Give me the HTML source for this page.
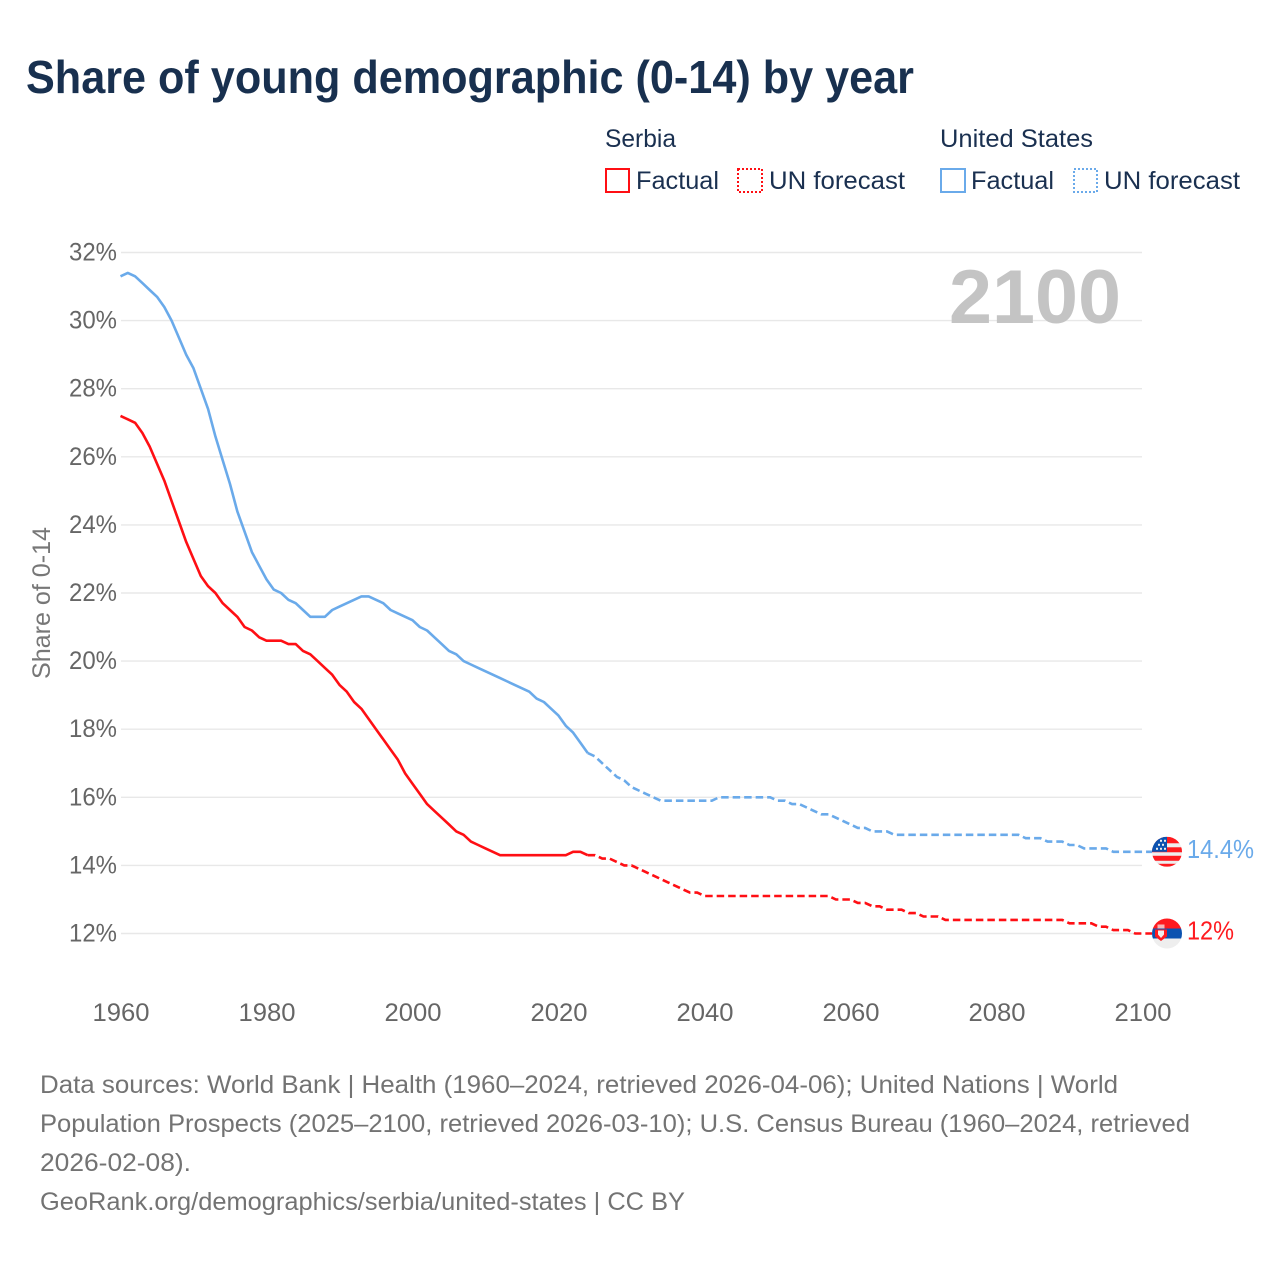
<!DOCTYPE html>
<html lang="en">
<head>
<meta charset="utf-8">
<title>Share of young demographic (0-14) by year</title>
<style>
html,body{margin:0;padding:0;background:#fff;width:1280px;height:1280px;overflow:hidden}
svg{display:block;font-family:"Liberation Sans",sans-serif}
.legend-text{font-size:25px;fill:#1a3050}
.tick{font-size:25px;fill:#666}
.foot{font-size:25px;fill:#737373}
</style>
</head>
<body>
<svg id="chart" xmlns="http://www.w3.org/2000/svg" width="1280" height="1280" viewBox="0 0 1280 1280">
  <rect x="0" y="0" width="1280" height="1280" fill="#fff"/>
  <text x="26" y="93" font-size="46" font-weight="700" fill="#18304f" textLength="888" lengthAdjust="spacingAndGlyphs">Share of young demographic (0-14) by year</text>

  <g>
    <text class="legend-text" x="605" y="147" textLength="71" lengthAdjust="spacingAndGlyphs">Serbia</text>
    <rect x="606" y="169" width="23" height="23" fill="none" stroke="#ff0f14" stroke-width="2"/>
    <text class="legend-text" x="636" y="189" textLength="83" lengthAdjust="spacingAndGlyphs">Factual</text>
    <rect x="738" y="169" width="24" height="23" fill="none" stroke="#ff0f14" stroke-width="2" stroke-dasharray="2 2"/>
    <text class="legend-text" x="769" y="189" textLength="136" lengthAdjust="spacingAndGlyphs">UN forecast</text>
    <text class="legend-text" x="940" y="147" textLength="153" lengthAdjust="spacingAndGlyphs">United States</text>
    <rect x="941" y="169" width="24" height="23" fill="none" stroke="#6aaaea" stroke-width="2"/>
    <text class="legend-text" x="971" y="189" textLength="83" lengthAdjust="spacingAndGlyphs">Factual</text>
    <rect x="1074" y="169" width="23" height="23" fill="none" stroke="#6aaaea" stroke-width="2" stroke-dasharray="2 2"/>
    <text class="legend-text" x="1104" y="189" textLength="136" lengthAdjust="spacingAndGlyphs">UN forecast</text>
  </g>

  <g id="grid"></g>
  <g id="y-ticks"></g>
  <g id="x-ticks"></g>

  <text transform="translate(50,679) rotate(-90)" font-size="25" fill="#777" textLength="152" lengthAdjust="spacingAndGlyphs">Share of 0-14</text>
  <text x="949" y="323" font-size="76" font-weight="700" fill="#c4c4c4" textLength="172" lengthAdjust="spacingAndGlyphs">2100</text>

  <g id="series"></g>

  <defs>
    <clipPath id="us-clip"><circle cx="0" cy="0" r="15"/></clipPath>
    <clipPath id="rs-clip"><circle cx="0" cy="0" r="15"/></clipPath>
  </defs>

  <g id="flag-us" clip-path="url(#us-clip)">
    <rect x="-15" y="-15" width="30" height="30" fill="#eee"/>
    <rect x="-15" y="-15" width="30" height="6.5" fill="#ff1a1f"/>
    <rect x="-15" y="-4.5" width="30" height="5" fill="#ff1a1f"/>
    <rect x="-15" y="4" width="30" height="5" fill="#ff1a1f"/>
    <rect x="-15" y="12" width="30" height="3" fill="#ff1a1f"/>
    <rect x="-15" y="-15" width="15" height="15" fill="#0b52b0"/>
    <g fill="#eee">
      <rect x="-7" y="-12" width="2" height="2"/><rect x="-3" y="-12" width="2" height="2"/>
      <rect x="-9" y="-8" width="2" height="2"/><rect x="-5" y="-8" width="2" height="2"/>
      <rect x="-11" y="-4" width="2" height="2"/><rect x="-7" y="-4" width="2" height="2"/><rect x="-3" y="-4" width="2" height="2"/>
    </g>
  </g>

  <g id="flag-rs" clip-path="url(#rs-clip)">
    <rect x="-15" y="-15" width="30" height="10" fill="#ff1a1f"/>
    <rect x="-15" y="-5" width="30" height="10" fill="#0b52b0"/>
    <rect x="-15" y="5" width="30" height="10" fill="#eee"/>
    <path d="M-12 -4 H0 V3 L-6 7.5 L-12 3 Z" fill="#ff1a1f"/>
    <rect x="-9.5" y="-9" width="7" height="4" fill="#f6b5b5"/>
    <path d="M-9 -3 H-3 V1 L-6 4.5 L-9 1 Z" fill="#eee"/>
  </g>

  <text id="label-us" x="1187" font-size="26" fill="#6aaaea" textLength="67" lengthAdjust="spacingAndGlyphs"></text>
  <text id="label-rs" x="1187" font-size="26" fill="#ff1a1f" textLength="47" lengthAdjust="spacingAndGlyphs"></text>

  <g>
    <text class="foot" x="40" y="1093" textLength="1078" lengthAdjust="spacingAndGlyphs">Data sources: World Bank | Health (1960–2024, retrieved 2026-04-06); United Nations | World</text>
    <text class="foot" x="40" y="1132" textLength="1150" lengthAdjust="spacingAndGlyphs">Population Prospects (2025–2100, retrieved 2026-03-10); U.S. Census Bureau (1960–2024, retrieved</text>
    <text class="foot" x="40" y="1171" textLength="151" lengthAdjust="spacingAndGlyphs">2026-02-08).</text>
    <text class="foot" x="40" y="1210" textLength="645" lengthAdjust="spacingAndGlyphs">GeoRank.org/demographics/serbia/united-states | CC BY</text>
  </g>
</svg>

<script>
const factualStartYear = 1960;
const forecastStartYear = 2024;
const yTickValues = [12, 14, 16, 18, 20, 22, 24, 26, 28, 30, 32];
const xTickYears = [1960, 1980, 2000, 2020, 2040, 2060, 2080, 2100];

const usFactual = [
  31.3,31.4,31.3,31.1,30.9,30.7,30.4,30.0,29.5,29.0,
  28.6,28.0,27.4,26.6,25.9,25.2,24.4,23.8,23.2,22.8,
  22.4,22.1,22.0,21.8,21.7,21.5,21.3,21.3,21.3,21.5,
  21.6,21.7,21.8,21.9,21.9,21.8,21.7,21.5,21.4,21.3,
  21.2,21.0,20.9,20.7,20.5,20.3,20.2,20.0,19.9,19.8,
  19.7,19.6,19.5,19.4,19.3,19.2,19.1,18.9,18.8,18.6,
  18.4,18.1,17.9,17.6,17.3
];
const usForecast = [
  17.3,17.2,17.0,16.8,16.6,16.5,16.3,16.2,16.1,16.0,
  15.9,15.9,15.9,15.9,15.9,15.9,15.9,15.9,16.0,16.0,
  16.0,16.0,16.0,16.0,16.0,16.0,15.9,15.9,15.8,15.8,
  15.7,15.6,15.5,15.5,15.4,15.3,15.2,15.1,15.1,15.0,
  15.0,15.0,14.9,14.9,14.9,14.9,14.9,14.9,14.9,14.9,
  14.9,14.9,14.9,14.9,14.9,14.9,14.9,14.9,14.9,14.9,
  14.8,14.8,14.8,14.7,14.7,14.7,14.6,14.6,14.5,14.5,
  14.5,14.5,14.4,14.4,14.4,14.4,14.4
];
const serbiaFactual = [
  27.2,27.1,27.0,26.7,26.3,25.8,25.3,24.7,24.1,23.5,
  23.0,22.5,22.2,22.0,21.7,21.5,21.3,21.0,20.9,20.7,
  20.6,20.6,20.6,20.5,20.5,20.3,20.2,20.0,19.8,19.6,
  19.3,19.1,18.8,18.6,18.3,18.0,17.7,17.4,17.1,16.7,
  16.4,16.1,15.8,15.6,15.4,15.2,15.0,14.9,14.7,14.6,
  14.5,14.4,14.3,14.3,14.3,14.3,14.3,14.3,14.3,14.3,
  14.3,14.3,14.4,14.4,14.3
];
const serbiaForecast = [
  14.3,14.3,14.2,14.2,14.1,14.0,14.0,13.9,13.8,13.7,
  13.6,13.5,13.4,13.3,13.2,13.2,13.1,13.1,13.1,13.1,
  13.1,13.1,13.1,13.1,13.1,13.1,13.1,13.1,13.1,13.1,
  13.1,13.1,13.1,13.1,13.0,13.0,13.0,12.9,12.9,12.8,
  12.8,12.7,12.7,12.7,12.6,12.6,12.5,12.5,12.5,12.4,
  12.4,12.4,12.4,12.4,12.4,12.4,12.4,12.4,12.4,12.4,
  12.4,12.4,12.4,12.4,12.4,12.4,12.3,12.3,12.3,12.3,
  12.2,12.2,12.1,12.1,12.1,12.0,12.0
];

const SVG_NS = 'http://www.w3.org/2000/svg';
const xScale = year => 120.5 + (year - 1960) * 7.3;
const yScale = value => 933.5 - (value - 12) * 34.05;
const BLUE = '#6aaaea';
const RED = '#ff0f14';
const FLAG_X = 1167;

function make(tag, parent, attrs) {
  const el = document.createElementNS(SVG_NS, tag);
  Object.keys(attrs).forEach(k => el.setAttribute(k, attrs[k]));
  parent.appendChild(el);
  return el;
}

const gridG = document.getElementById('grid');
const yG = document.getElementById('y-ticks');
yTickValues.forEach(v => {
  const line = make('line', gridG, {x1: 121, x2: 1142, y1: yScale(v), y2: yScale(v), stroke: '#e8e8e8', 'stroke-width': 1.4});
  
  
  const t = make('text', yG, {x: 69, y: yScale(v) + 8, class: 'tick', textLength: 48, lengthAdjust: 'spacingAndGlyphs'});
  
  
  t.textContent = v + '%';
});

const xG = document.getElementById('x-ticks');
xTickYears.forEach(y => {
  const t = make('text', xG, {x: xScale(y) - 28, y: 1021, class: 'tick', textLength: 57, lengthAdjust: 'spacingAndGlyphs'});
  
  
  t.textContent = y;
});

function pathFrom(values, startYear, extendToFlag) {
  const pts = values.map((v, i) => xScale(startYear + i).toFixed(1) + ',' + yScale(v).toFixed(1));
  if (extendToFlag) pts.push((FLAG_X - 15) + ',' + yScale(values[values.length - 1]).toFixed(1));
  return 'M' + pts.join('L');
}

const seriesG = document.getElementById('series');
const usFactualLine = make('path', seriesG, {d: pathFrom(usFactual, factualStartYear, false), fill: 'none', stroke: BLUE, 'stroke-width': 2.6, 'stroke-linejoin': 'round'});


const usForecastLine = make('path', seriesG, {d: pathFrom(usForecast, forecastStartYear, true), fill: 'none', stroke: BLUE, 'stroke-width': 2.6, 'stroke-dasharray': '7.5 4'});


const rsFactualLine = make('path', seriesG, {d: pathFrom(serbiaFactual, factualStartYear, false), fill: 'none', stroke: RED, 'stroke-width': 2.6, 'stroke-linejoin': 'round'});


const rsForecastLine = make('path', seriesG, {d: pathFrom(serbiaForecast, forecastStartYear, true), fill: 'none', stroke: RED, 'stroke-width': 2.6, 'stroke-dasharray': '7.5 4'});



const usLast = usForecast[usForecast.length - 1];
const rsLast = serbiaForecast[serbiaForecast.length - 1];
document.getElementById('flag-us').setAttribute('transform', 'translate(' + FLAG_X + ',' + yScale(usLast) + ')');
document.getElementById('flag-rs').setAttribute('transform', 'translate(' + FLAG_X + ',' + yScale(rsLast) + ')');
const labelUs = document.getElementById('label-us');
labelUs.setAttribute('y', yScale(usLast) + 6);
labelUs.textContent = usLast + '%';
const labelRs = document.getElementById('label-rs');
labelRs.setAttribute('y', yScale(rsLast) + 6);
labelRs.textContent = rsLast + '%';
</script>
</body>
</html>
